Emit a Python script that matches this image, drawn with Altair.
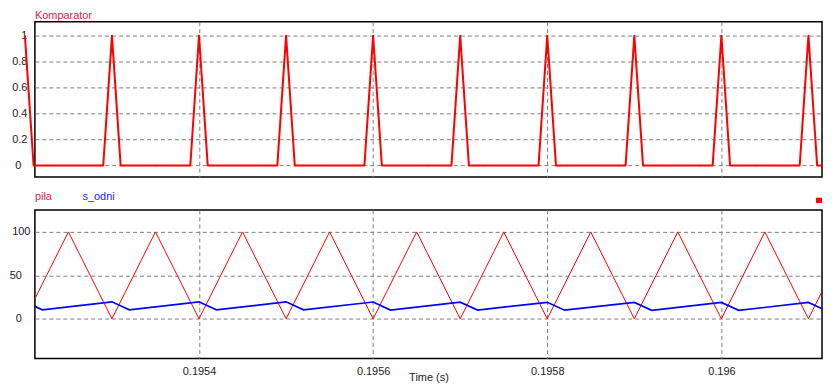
import altair as alt
import pandas as pd

# ---------------- data ----------------
# Komparator (0/1 pulses, linear edges between samples)
comp_t = [0.1952, 0.19521,
          0.19529, 0.1953, 0.19531,
          0.19539, 0.1954, 0.19541,
          0.19549, 0.1955, 0.19551,
          0.19559, 0.1956, 0.19561,
          0.19569, 0.1957, 0.19571,
          0.19579, 0.1958, 0.19581,
          0.19589, 0.1959, 0.19591,
          0.19599, 0.196, 0.19601,
          0.19609, 0.1961, 0.19611,
          0.196116]
comp_v = [1, 0,
          0, 1, 0,
          0, 1, 0,
          0, 1, 0,
          0, 1, 0,
          0, 1, 0,
          0, 1, 0,
          0, 1, 0,
          0, 1, 0,
          0, 1, 0,
          0]

# pila (triangle carrier) vertices
pila_t = [0.1952, 0.19525, 0.1953, 0.19535, 0.1954, 0.19545, 0.1955, 0.19555,
          0.1956, 0.19565, 0.1957, 0.19575, 0.1958, 0.19585, 0.1959, 0.19595,
          0.196, 0.19605, 0.1961, 0.19615]
pila_v = [0, 100, 0, 100, 0, 100, 0, 100,
          0, 100, 0, 100, 0, 100, 0, 100,
          0, 100, 0, 100]

# s_odni (modulating signal) vertices
sodni_t = [0.1952, 0.19522, 0.1953, 0.19532, 0.1954, 0.19542, 0.1955, 0.19552,
           0.1956, 0.19562, 0.1957, 0.19572, 0.1958, 0.19582, 0.1959, 0.19592,
           0.196, 0.19602, 0.1961, 0.19612]
sodni_v = [19.5, 10.3, 19.5, 10.3, 19.5, 10.3, 19.5, 10.3,
           19.3, 10.1, 19.2, 10.0, 19.0, 9.9, 18.8, 9.7,
           18.8, 9.7, 18.8, 9.7]

x_ticks = [0.1954, 0.1956, 0.1958, 0.196]
top_ticks = [0, 0.2, 0.4, 0.6, 0.8, 1]
bot_ticks = [0, 50, 100]
x_domain = [0.1952115, 0.1961156]
top_domain = [-0.09, 1.108]
bot_domain = [-45.6, 125.3]

RED = "#ff0000"
BLUE = "#0000ff"
RED_TXT = "#f0204a"
BLUE_TXT = "#1a1aff"
LBL = "#222222"
FONT = "Liberation Sans"

comp_df = pd.DataFrame({"t": comp_t, "v": comp_v})
pila_df = pd.DataFrame({"t": pila_t, "v": pila_v})
sodni_df = pd.DataFrame({"t": sodni_t, "v": sodni_v})
one = alt.Data(values=[{"k": 0}])

W, H1, H2 = 790, 156, 149

grid = dict(grid=True, gridColor="#808080", gridDash=[4, 3], gridWidth=1,
            ticks=False, domain=False)

xscale = alt.Scale(domain=x_domain, nice=False, zero=False)

# ---------------- top panel ----------------
x_top = alt.X("t:Q", scale=xscale,
              axis=alt.Axis(values=x_ticks, labels=False, title=None,
                            minExtent=0, maxExtent=0, **grid))
y_top = alt.Y("v:Q", scale=alt.Scale(domain=top_domain, nice=False, zero=False),
              axis=alt.Axis(values=top_ticks, format="~r", title=None,
                            labelPadding={"condition": {"test": "datum.value === 0", "value": 14},
                                          "value": 8},
                            minExtent=23, maxExtent=23, **grid))

comp_line = alt.Chart(comp_df).mark_line(
    color=RED, strokeWidth=2, strokeJoin="round", clip=False
).encode(x=x_top, y=y_top)
comp_title = alt.Chart(one).mark_text(
    text="Komparator", align="left", baseline="alphabetic", color=RED_TXT,
    font=FONT, fontSize=11).encode(x=alt.value(0), y=alt.value(-2.3))

top = alt.layer(comp_line, comp_title).properties(width=W, height=H1)

# ---------------- bottom panel ----------------
x_bot = alt.X("t:Q", scale=xscale,
              axis=alt.Axis(values=x_ticks, format="~r", title="Time (s)",
                            labelPadding=7, titleY=13.5, titleBaseline="top",
                            **grid))
y_bot = alt.Y("v:Q", scale=alt.Scale(domain=bot_domain, nice=False, zero=False),
              axis=alt.Axis(values=bot_ticks, format="~r", title=None,
                            labelPadding={"condition": {"test": "datum.value === 100", "value": 5},
                                          "value": 13.5},
                            minExtent=23, maxExtent=23, **grid))

pila_line = alt.Chart(pila_df).mark_line(color=RED, strokeWidth=1, clip=True).encode(
    x=x_bot, y=y_bot)
sodni_line = alt.Chart(sodni_df).mark_line(color=BLUE, strokeWidth=1.7, clip=True).encode(
    x=x_bot, y=y_bot)
pila_lbl = alt.Chart(one).mark_text(
    text="pila", align="left", baseline="alphabetic", color=RED_TXT,
    font=FONT, fontSize=11).encode(x=alt.value(0), y=alt.value(-10.3))
sodni_lbl = alt.Chart(one).mark_text(
    text="s_odni", align="left", baseline="alphabetic", color=BLUE_TXT,
    font=FONT, fontSize=11).encode(x=alt.value(47.7), y=alt.value(-10.3))
marker = alt.Chart(one).mark_rect(color=RED).encode(
    x=alt.value(784), x2=alt.value(790), y=alt.value(-12.3), y2=alt.value(-7))

bottom = alt.layer(pila_line, sodni_line, pila_lbl, sodni_lbl, marker).properties(
    width=W, height=H2)

chart = alt.vconcat(top, bottom, spacing=11).properties(
    padding=0, background="white"
).configure_view(
    stroke="black", strokeWidth=1.5
).configure_axis(
    labelFont=FONT, labelFontSize=11, labelColor=LBL,
    titleFont=FONT, titleFontSize=11, titleFontWeight="normal", titleColor=LBL
)

chart.save("out.html", embed_options={"renderer": "svg", "actions": False})
